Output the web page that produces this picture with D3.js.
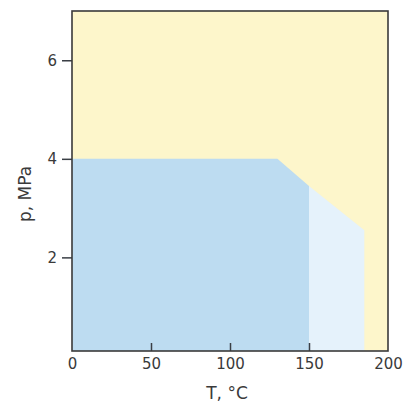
<!DOCTYPE html>
<html><head><meta charset="utf-8">
<script src="https://cdn.jsdelivr.net/npm/d3@7"></script>
<style>
html,body{margin:0;padding:0;background:#fff;}
svg{display:block;}
</style></head>
<body>
<svg id="chart" width="407" height="407"></svg>
<script>
// Data
const xDomain = [0, 200];
const yDomain = [0.1, 7];
const xTicks = [0, 50, 100, 150, 200];
const yTicks = [2, 4, 6];
const xLabel = "T, °C";
const yLabel = "p, MPa";
// region boundaries [T, p]
const liquidRegion = [[0, 0.1], [0, 4], [130, 4], [150, 3.45], [150, 0.1]];
const lightRegion = [[150, 0.1], [150, 3.45], [185, 2.55], [185, 0.1]];
const regionColors = ["#bddcf1", "#e5f2fb"];
const bgColor = "#fdf6cb";

const svg = d3.select("#chart");
const m = {left: 72, right: 19, top: 11, bottom: 56};
const W = 407 - m.left - m.right, H = 407 - m.top - m.bottom;
const x = d3.scaleLinear().domain(xDomain).range([0, W]);
const y = d3.scaleLinear().domain(yDomain).range([H, 0]);
const g = svg.append("g").attr("transform", `translate(${m.left},${m.top})`);

g.append("rect").attr("width", W).attr("height", H).attr("fill", bgColor);
const line = d3.line().x(d => x(d[0])).y(d => y(d[1]));
[liquidRegion, lightRegion].forEach((r, i) => {
  g.append("path").attr("d", line(r) + "Z").attr("fill", regionColors[i]);
});

const font = "'DejaVu Sans', sans-serif";
const xa = g.append("g").attr("transform", `translate(0,${H})`)
  .call(d3.axisBottom(x).tickValues(xTicks).tickSize(-8).tickPadding(7).tickFormat(d3.format("d")));
const ya = g.append("g")
  .call(d3.axisLeft(y).tickValues(yTicks).tickSize(10).tickPadding(5).tickFormat(d3.format("d")));
[xa, ya].forEach(a => {
  a.select(".domain").remove();
  a.selectAll("line").attr("stroke", "#3a3f45").attr("stroke-width", 1.5);
  a.selectAll("text").attr("fill", "#3a3a3a").attr("font-size", 15).attr("font-family", font);
});
xa.selectAll(".tick").filter(d => d === 0 || d === 200).select("line").remove();

g.append("rect").attr("width", W).attr("height", H).attr("fill", "none")
  .attr("stroke", "#3a3a3a").attr("stroke-width", 1.6);

svg.append("text").attr("x", m.left + W / 2 - 3).attr("y", 399).attr("text-anchor", "middle")
  .attr("fill", "#3a3a3a").attr("font-size", 17).attr("font-family", font).text(xLabel);
svg.append("text").attr("transform", `translate(31,194) rotate(-90)`)
  .attr("text-anchor", "middle").attr("fill", "#3a3a3a").attr("font-size", 17)
  .attr("font-family", font).text(yLabel);
</script>
</body></html>
